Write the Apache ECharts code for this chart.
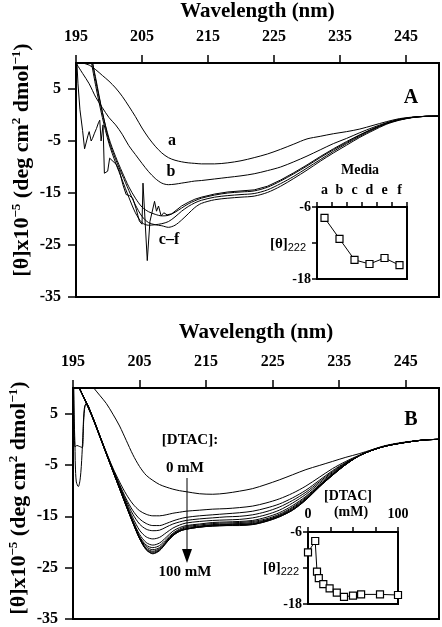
<!DOCTYPE html>
<html>
<head>
<meta charset="utf-8">
<script src="https://cdn.jsdelivr.net/npm/echarts@6/dist/echarts.min.js"></script>
<style>
html,body{margin:0;padding:0;background:#fff;}
#c{width:442px;height:627px;}
</style>
</head>
<body>
<div id="c"></div>
<script>
// ---------------- DATA ----------------
// Panel A: CD spectra in different media (wavelength nm -> [θ]x10^-5)
const WL_A = [195, 195.5, 196, 197, 198, 199, 200, 201, 202, 203, 204, 205, 206, 207, 208, 209, 210, 211, 212, 213, 214, 216, 218, 220, 222, 224, 226, 228, 230, 232, 234, 236, 238, 240, 242, 244, 246, 248, 250];
const A_a = [11, 10.2, 10, 9.6, 8.7, 7.6, 6.5, 5.2, 3.6, 1.7, -0.3, -2.5, -4.4, -6.0, -7.3, -8.2, -8.7, -9.0, -9.2, -9.3, -9.4, -9.4, -9.2, -8.8, -8.2, -7.5, -6.6, -5.6, -4.6, -4.1, -3.6, -3.2, -2.7, -2.0, -1.3, -0.7, -0.4, -0.25, -0.2];
const A_b = [10, 9, 8, 6, 3.4, 1.4, -0.5, -1.9, -3.7, -5.9, -7.6, -9.3, -10.9, -12.2, -13.1, -13.4, -13.3, -13.1, -12.9, -12.7, -12.6, -12.3, -12.0, -11.7, -11.3, -10.7, -10.0, -9.0, -7.9, -6.7, -5.5, -4.5, -3.4, -2.4, -1.5, -0.8, -0.45, -0.25, -0.2];
const A_c = [null, null, null, 13, 7, 0.5, -4.5, -8, -11, -13.8, -16, -17.7, -18.6, -19.1, -19.4, -19.3, -18.7, -17.9, -17.1, -16.5, -16.0, -15.4, -15.0, -14.8, -14.6, -13.9, -12.7, -11.3, -9.8, -8.2, -6.7, -5.3, -3.9, -2.7, -1.6, -0.9, -0.45, -0.25, -0.2];
const A_d = [null, null, null, 12.5, 5.5, -0.5, -5.5, -9.2, -12.5, -15.8, -18.8, -20.7, -21.2, -21.1, -20.9, -20.5, -19.6, -18.5, -17.6, -16.9, -16.4, -15.8, -15.5, -15.3, -15.1, -14.4, -13.2, -11.8, -10.2, -8.6, -7.0, -5.5, -4.1, -2.8, -1.7, -0.95, -0.45, -0.25, -0.2];
const A_f = [null, null, null, 14, 6.5, 0.5, -5, -8.5, -11.5, -14.5, -17.3, -19.5, -20.7, -21.1, -21.3, -21.6, -21.2, -20.2, -19.0, -17.8, -17.0, -16.3, -16.0, -15.8, -15.6, -14.9, -13.7, -12.2, -10.6, -8.9, -7.3, -5.8, -4.3, -3.0, -1.8, -1.0, -0.5, -0.25, -0.2];
// noisy spectrum (medium e)
const E_WL = [195.1, 195.3, 195.6, 196.0, 196.3, 196.5, 196.8, 197.0, 197.3, 197.5, 197.8, 198.1, 198.4, 198.6, 198.8, 199.1, 199.3, 199.8, 200.1, 200.6, 201.1, 201.6, 202.1, 202.6, 203.1, 203.6, 204.1, 204.6, 205.0, 205.15, 205.8, 206.2, 206.9, 207.2, 207.5, 207.9, 208.3, 208.8, 209.5, 210, 211, 212, 213, 214, 216, 218, 220, 222, 224, 226, 228, 230, 232, 234, 236, 238, 240, 242, 244, 246, 248, 250];
const E_VAL = [11, 6, 1, -3, -6.5, -6.4, -4, -3.2, -5, -4.5, -3.5, -2.6, -1.5, -1, -5, -1.9, -11.2, -10.8, -8.3, -8.9, -9.5, -10.8, -13.4, -15.3, -15.5, -16, -18, -20.4, -21, -13.1, -28, -20.5, -16.6, -18.5, -17.5, -19.4, -18.8, -19.2, -19, -18.5, -17.5, -16.8, -16.2, -15.8, -15.2, -14.8, -14.6, -14.4, -13.7, -12.5, -11.1, -9.6, -8.0, -6.5, -5.1, -3.8, -2.6, -1.6, -0.9, -0.45, -0.25, -0.2];

// Panel B: CD spectra with increasing [DTAC]
const WL_B = [195.8, 196, 197, 198, 199, 200, 201, 202, 203, 204, 205, 206, 207, 208, 209, 210, 211, 212, 214, 216, 218, 220, 222, 224, 226, 228, 230, 232, 234, 236, 238, 240, 242, 244, 246, 248, 250];
const B_0 = [null, null, 12, 10.2, 8.6, 7.0, 4.9, 2.6, -0.2, -3.0, -5.3, -7.0, -8.0, -8.8, -9.3, -9.7, -10.0, -10.2, -10.6, -10.7, -10.5, -10.1, -9.6, -8.8, -7.9, -6.9, -5.9, -5.1, -4.3, -3.5, -2.8, -2.0, -1.3, -0.8, -0.4, -0.1, 0];
const B_2 = [10.5, 9.8, 7.2, 4.2, 0.8, -2.5, -5.6, -8.3, -10.7, -12.6, -13.9, -14.6, -14.9, -14.9, -14.7, -14.4, -14.2, -14.0, -13.8, -13.6, -13.5, -13.3, -13.0, -12.4, -11.6, -10.5, -9.1, -7.4, -5.7, -4.3, -3.1, -2.1, -1.3, -0.8, -0.4, -0.1, 0];
const B_3 = [10.5, 9.8, 7.2, 4.2, 0.8, -2.6, -5.8, -8.8, -11.6, -13.9, -15.5, -16.4, -16.8, -16.8, -16.4, -15.9, -15.5, -15.2, -14.9, -14.7, -14.5, -14.3, -14.0, -13.4, -12.6, -11.4, -9.9, -8.0, -6.1, -4.5, -3.2, -2.1, -1.3, -0.8, -0.4, -0.1, 0];
const B_4 = [10.5, 9.8, 7.2, 4.2, 0.8, -2.6, -5.9, -9.0, -12.0, -14.6, -16.5, -17.5, -17.8, -17.7, -17.1, -16.5, -16.1, -15.8, -15.5, -15.3, -15.1, -15.0, -14.7, -14.1, -13.2, -11.9, -10.3, -8.3, -6.3, -4.6, -3.2, -2.1, -1.3, -0.8, -0.4, -0.1, 0];
const B_5 = [10.5, 9.8, 7.2, 4.2, 0.8, -2.7, -6.0, -9.2, -12.4, -15.3, -17.7, -19.0, -19.4, -19.1, -18.2, -17.3, -16.7, -16.3, -16.0, -15.8, -15.7, -15.6, -15.3, -14.7, -13.8, -12.4, -10.7, -8.6, -6.5, -4.7, -3.2, -2.1, -1.3, -0.8, -0.4, -0.1, 0];
const B_6 = [10.5, 9.8, 7.2, 4.2, 0.8, -2.7, -6.1, -9.4, -12.7, -15.8, -18.5, -20.1, -20.6, -20.2, -19.1, -17.9, -17.2, -16.8, -16.5, -16.2, -16.1, -16.0, -15.8, -15.2, -14.3, -12.9, -11.1, -8.9, -6.7, -4.8, -3.2, -2.1, -1.3, -0.8, -0.4, -0.1, 0];
const B_7 = [10.5, 9.8, 7.1, 4.1, 0.7, -2.7, -6.1, -9.5, -12.8, -16.0, -18.9, -20.6, -21.1, -20.7, -19.5, -18.3, -17.5, -17.0, -16.7, -16.4, -16.3, -16.2, -16.0, -15.5, -14.6, -13.2, -11.3, -9.0, -6.8, -4.8, -3.2, -2.1, -1.3, -0.8, -0.4, -0.1, 0];
const B_8 = [10.6, 9.9, 7.1, 4.1, 0.7, -2.8, -6.2, -9.5, -12.9, -16.1, -19.1, -20.9, -21.5, -21.1, -19.8, -18.5, -17.7, -17.2, -16.9, -16.6, -16.5, -16.4, -16.2, -15.7, -14.8, -13.4, -11.5, -9.1, -6.9, -4.9, -3.2, -2.1, -1.3, -0.8, -0.4, -0.1, 0];
const B_9 = [10.6, 9.9, 7.0, 4.0, 0.7, -2.8, -6.2, -9.6, -12.9, -16.2, -19.2, -21.2, -21.8, -21.3, -20.0, -18.6, -17.8, -17.4, -17.0, -16.7, -16.6, -16.5, -16.4, -15.8, -14.9, -13.6, -11.6, -9.2, -6.9, -4.9, -3.2, -2.1, -1.3, -0.8, -0.4, -0.1, 0];
const B_10 = [10.7, 10.0, 7.0, 4.0, 0.6, -2.8, -6.2, -9.6, -13.0, -16.2, -19.3, -21.4, -22.0, -21.5, -20.1, -18.7, -17.9, -17.5, -17.1, -16.8, -16.7, -16.6, -16.5, -15.9, -15.0, -13.7, -11.7, -9.2, -7.0, -4.9, -3.2, -2.1, -1.3, -0.8, -0.4, -0.1, 0];
const B_11 = [null, null, 7.0, 4.0, 0.6, -2.8, -6.2, -9.6, -13.0, -16.3, -19.3, -21.5, -22.2, -21.6, -20.2, -18.8, -17.9, -17.5, -17.1, -16.9, -16.8, -16.7, -16.6, -16.0, -15.1, -13.8, -11.8, -9.3, -7.0, -4.9, -3.2, -2.1, -1.3, -0.8, -0.4, -0.1, 0];
const B_12 = [null, null, 7.0, 4.0, 0.6, -2.8, -6.2, -9.6, -13.0, -16.3, -19.3, -21.5, -22.3, -21.7, -20.2, -18.8, -17.9, -17.5, -17.1, -16.9, -16.8, -16.8, -16.6, -16.0, -15.1, -13.8, -11.8, -9.3, -7.0, -4.9, -3.2, -2.0, -1.2, -0.7, -0.35, -0.1, 0];
// short-wavelength artefacts (start of two spectra)
const B_11_START = [[195.1, 12], [195.3, -1.5], [195.6, -1.2], [196.0, -1.4], [196.4, -1.6], [196.6, 3.5], [196.8, 6.5]];
const B_12_START = [[195.05, 12], [195.2, 3], [195.3, -1.5], [195.35, -5], [195.5, -8.3], [195.8, -9.2], [196.1, -7.5], [196.35, -3], [196.5, 1.5], [196.7, 6]];

// Insets: [θ]222
const MEDIA = ['a', 'b', 'c', 'd', 'e', 'f'];
const THETA_MEDIA = [-7.8, -11.3, -14.8, -15.5, -14.5, -15.7];
const DTAC_MM = [0, 8, 10, 12, 17, 24, 32, 40, 50, 59, 80, 100];
const THETA_DTAC = [-9.4, -7.5, -12.6, -13.7, -14.7, -15.4, -16.1, -16.8, -16.6, -16.4, -16.4, -16.5];

// tick values
const WL_TICKS = [195, 205, 215, 225, 235, 245];
const THETA_TICKS = [-35, -25, -15, -5, 5];
const INSET_Y_TICKS = [-18, -12, -6];
const INSET_Y_LABELS = [-18, -6];
const DTAC_TICKS = [0, 25, 50, 75, 100];
const DTAC_LABELS = [0, 100];

// ---------------- CHART ----------------
const F = '"Liberation Serif","Times New Roman",serif';
const BLK = '#000';
function pairs(wl, vals) {
  return wl.map((w, i) => [w, vals[i]]).filter(p => p[1] !== null && p[1] !== undefined);
}
function lab(size, extra) {
  return Object.assign({fontFamily: F, fontWeight: 'bold', fontSize: size, color: BLK}, extra || {});
}
function mainX(gi, gap) {
  return {
    gridIndex: gi, type: 'value', position: 'top', min: 195, max: 250,
    name: 'Wavelength (nm)', nameLocation: 'middle', nameGap: gap,
    nameTextStyle: lab(21),
    axisLine: {show: true, onZero: false, lineStyle: {color: BLK, width: 2}},
    axisTick: {show: true, length: 8, lineStyle: {color: BLK, width: 1.5}, customValues: WL_TICKS},
    axisLabel: Object.assign(lab(16), {margin: 18, customValues: WL_TICKS}),
    splitLine: {show: false}
  };
}
function mainY(gi) {
  return {
    gridIndex: gi, type: 'value', min: -35, max: 10,
    axisLine: {show: true, onZero: false, lineStyle: {color: BLK, width: 2}},
    axisTick: {show: true, length: 8, lineStyle: {color: BLK, width: 1.5}, customValues: THETA_TICKS},
    axisLabel: Object.assign(lab(16), {margin: 15, customValues: THETA_TICKS}),
    splitLine: {show: false}
  };
}
function spec(xi, data, smooth) {
  return {
    type: 'line', xAxisIndex: xi, yAxisIndex: xi, data: data, showSymbol: false, symbol: 'none',
    smooth: smooth, clip: true, silent: true,
    lineStyle: {color: BLK, width: 1}, z: 2
  };
}
const symStyle = {color: '#fff', borderColor: BLK, borderWidth: 1.2};

const series = [
  spec(0, pairs(WL_A, A_a), 0.3),
  spec(0, pairs(WL_A, A_b), 0.3),
  spec(0, pairs(WL_A, A_c), 0.3),
  spec(0, pairs(WL_A, A_d), 0.3),
  spec(0, pairs(E_WL, E_VAL), false),
  spec(0, pairs(WL_A, A_f), 0.3),
  spec(1, pairs(WL_B, B_0), 0.3),
  spec(1, pairs(WL_B, B_2), 0.3),
  spec(1, pairs(WL_B, B_3), 0.3),
  spec(1, pairs(WL_B, B_4), 0.3),
  spec(1, pairs(WL_B, B_5), 0.3),
  spec(1, pairs(WL_B, B_6), 0.3),
  spec(1, pairs(WL_B, B_7), 0.3),
  spec(1, pairs(WL_B, B_8), 0.3),
  spec(1, pairs(WL_B, B_9), 0.3),
  spec(1, pairs(WL_B, B_10), 0.3),
  spec(1, B_11_START.concat(pairs(WL_B, B_11)), 0.3),
  spec(1, B_12_START.concat(pairs(WL_B, B_12)), 0.3),
  {
    type: 'line', xAxisIndex: 2, yAxisIndex: 2, data: THETA_MEDIA,
    symbol: 'rect', symbolSize: 7, itemStyle: symStyle,
    lineStyle: {color: BLK, width: 1}, z: 5
  },
  {
    type: 'line', xAxisIndex: 3, yAxisIndex: 3, data: DTAC_MM.map((d, i) => [d, THETA_DTAC[i]]),
    symbol: 'rect', symbolSize: 7, itemStyle: symStyle, clip: false,
    lineStyle: {color: BLK, width: 1}, z: 5
  }
];

const sup = {fontFamily: F, fontWeight: 'bold', fontSize: 13, fill: BLK, verticalAlign: 'top', lineHeight: 24};
const nrm = {fontFamily: F, fontWeight: 'bold', fontSize: 22, fill: BLK, lineHeight: 24};
function yTitle(x, y) {
  return {
    type: 'text', x: x, y: y, rotation: Math.PI / 2,
    style: {
      text: '{n|[θ]x10}{s|−5}{n| (deg cm}{s|2}{n| dmol}{s|−1}{n|)}',
      rich: {n: nrm, s: sup}, align: 'center', verticalAlign: 'middle'
    }
  };
}
function txt(x, y, t, size) {
  return {type: 'text', x: x, y: y, z: 10,
    style: {text: t, fontFamily: F, fontWeight: 'bold', fontSize: size, fill: BLK, align: 'center', verticalAlign: 'middle'}};
}
function thetaSub(x, y) {
  return {type: 'text', x: x, y: y, z: 10,
    style: {
      text: '{n|[θ]}{s|222}',
      rich: {
        n: {fontFamily: F, fontWeight: 'bold', fontSize: 15, fill: BLK, lineHeight: 18},
        s: {fontFamily: '"Liberation Sans",Arial,sans-serif', fontSize: 11, fill: BLK, verticalAlign: 'bottom', lineHeight: 18}
      },
      align: 'center', verticalAlign: 'middle'
    }};
}

const option = {
  animation: false,
  backgroundColor: '#fff',
  grid: [
    {left: 76, top: 61, width: 363, height: 236, show: true, borderColor: BLK, borderWidth: 2, backgroundColor: 'transparent'},
    {left: 73, top: 388, width: 366, height: 233, show: true, borderColor: BLK, borderWidth: 2, backgroundColor: 'transparent'},
    {left: 317, top: 207, width: 90, height: 72, show: true, borderColor: BLK, borderWidth: 2, backgroundColor: 'transparent'},
    {left: 308, top: 532, width: 90, height: 72, show: true, borderColor: BLK, borderWidth: 2, backgroundColor: 'transparent'}
  ],
  xAxis: [
    mainX(0, 41),
    mainX(1, 45),
    {
      gridIndex: 2, type: 'category', data: MEDIA, position: 'top', boundaryGap: true,
      axisLine: {show: true, lineStyle: {color: BLK, width: 2}},
      axisTick: {show: true, length: 5, lineStyle: {color: BLK, width: 1.5}},
      axisLabel: Object.assign(lab(14), {margin: 10}),
      splitLine: {show: false}
    },
    {
      gridIndex: 3, type: 'value', position: 'top', min: 0, max: 100,
      axisLine: {show: true, onZero: false, lineStyle: {color: BLK, width: 2}},
      axisTick: {show: true, length: 5, lineStyle: {color: BLK, width: 1.5}, customValues: DTAC_TICKS},
      axisLabel: Object.assign(lab(14), {margin: 11, customValues: DTAC_LABELS}),
      splitLine: {show: false}
    }
  ],
  yAxis: [
    mainY(0),
    mainY(1),
    {
      gridIndex: 2, type: 'value', min: -18, max: -6,
      axisLine: {show: true, onZero: false, lineStyle: {color: BLK, width: 2}},
      axisTick: {show: true, length: 5, lineStyle: {color: BLK, width: 1.5}, customValues: INSET_Y_TICKS},
      axisLabel: Object.assign(lab(14), {margin: 6, customValues: INSET_Y_LABELS}),
      splitLine: {show: false}
    },
    {
      gridIndex: 3, type: 'value', min: -18, max: -6,
      axisLine: {show: true, onZero: false, lineStyle: {color: BLK, width: 2}},
      axisTick: {show: true, length: 5, lineStyle: {color: BLK, width: 1.5}, customValues: INSET_Y_TICKS},
      axisLabel: Object.assign(lab(14), {margin: 6, customValues: INSET_Y_LABELS}),
      splitLine: {show: false}
    }
  ],
  series: series,
  graphic: [
    yTitle(22, 160),
    yTitle(19, 498),
    txt(411, 98, 'A', 20),
    txt(411, 420, 'B', 20),
    txt(172, 141, 'a', 16),
    txt(171, 172, 'b', 16),
    txt(169, 240, 'c–f', 16),
    txt(190, 440, '[DTAC]:', 15),
    txt(185, 468, '0 mM', 15),
    txt(185, 572, '100 mM', 15),
    {type: 'line', z: 10, shape: {x1: 187, y1: 478, x2: 187, y2: 551}, style: {stroke: BLK, lineWidth: 1}},
    {type: 'polygon', z: 10, shape: {points: [[182, 549], [192, 549], [187, 563]]}, style: {fill: BLK}},
    txt(360, 170, 'Media', 14),
    thetaSub(288, 244),
    txt(348, 496, '[DTAC]', 14),
    txt(351, 512, '(mM)', 14),
    thetaSub(281, 568)
  ]
};
echarts.init(document.getElementById('c')).setOption(option);
</script>
</body>
</html>
